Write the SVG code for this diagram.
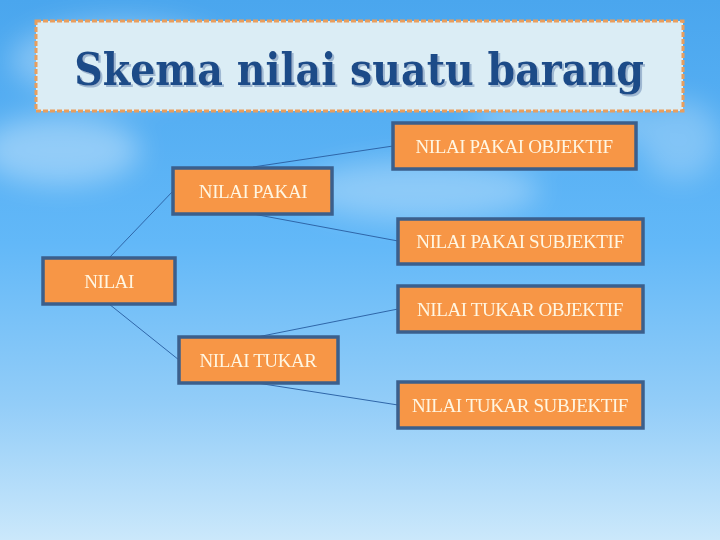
<svg xmlns="http://www.w3.org/2000/svg" width="720" height="540" viewBox="0 0 720 540">
  <defs>
    <linearGradient id="sky" x1="0" y1="0" x2="0" y2="1">
      <stop offset="0" stop-color="#4aa6ee"/>
      <stop offset="0.45" stop-color="#62b8f8"/>
      <stop offset="0.75" stop-color="#93cdf8"/>
      <stop offset="1" stop-color="#cbe8fb"/>
    </linearGradient>
    <filter id="blur" x="-50%" y="-50%" width="200%" height="200%">
      <feGaussianBlur stdDeviation="14"/>
    </filter>
    <filter id="shadow" x="-5%" y="-20%" width="110%" height="140%">
      <feFlood flood-color="#9fb8d2"/>
      <feComposite in2="SourceAlpha" operator="in"/>
      <feOffset dx="2" dy="2" result="sh"/>
      <feMerge>
        <feMergeNode in="sh"/>
        <feMergeNode in="SourceGraphic"/>
      </feMerge>
    </filter>
    <style>
      .box { fill: #f79646; stroke: #3b5f8c; stroke-width: 3.5; }
      .lbl { font-family: "Liberation Serif", "Times New Roman", serif; font-size: 19px; fill: #fff6e2; text-anchor: middle; letter-spacing: -0.4px; }
      .con { stroke: #2f66a8; stroke-width: 1; fill: none; }
      .title { font-family: "DejaVu Serif Condensed", "DejaVu Serif", serif; font-stretch: condensed; font-weight: bold; font-size: 44px; text-anchor: middle; }
    </style>
  </defs>

  <rect width="720" height="540" fill="url(#sky)"/>
  <g filter="url(#blur)" fill="#ffffff">
    <ellipse cx="60" cy="150" rx="80" ry="35" opacity="0.35"/>
    <ellipse cx="120" cy="60" rx="110" ry="40" opacity="0.3"/>
    <ellipse cx="420" cy="190" rx="120" ry="30" opacity="0.3"/>
    <ellipse cx="560" cy="120" rx="90" ry="30" opacity="0.25"/>
    <ellipse cx="680" cy="140" rx="40" ry="40" opacity="0.25"/>
  </g>

  <g id="title">
    <rect x="36" y="21" width="647" height="90" fill="#dbedf5" stroke="#e89e5e" stroke-width="3" stroke-dasharray="5 2"/>
    <text class="title" x="359" y="85" fill="#1f4c88" filter="url(#shadow)">Skema nilai suatu barang</text>
  </g>

  <g id="connectors">
    <line class="con" x1="109" y1="258" x2="173" y2="191"/>
    <line class="con" x1="109" y1="304" x2="179" y2="360"/>
    <line class="con" x1="253" y1="167" x2="393" y2="146"/>
    <line class="con" x1="253" y1="214" x2="398" y2="241"/>
    <line class="con" x1="257" y1="337" x2="398" y2="309"/>
    <line class="con" x1="257" y1="383" x2="398" y2="405"/>
  </g>

  <g id="nilai">
    <rect class="box" x="43" y="258" width="132" height="46"/>
    <text class="lbl" x="109" y="288">NILAI</text>
  </g>
  <g id="nilai-pakai">
    <rect class="box" x="173" y="168" width="159" height="46"/>
    <text class="lbl" x="253" y="198">NILAI PAKAI</text>
  </g>
  <g id="nilai-tukar">
    <rect class="box" x="179" y="337" width="159" height="46"/>
    <text class="lbl" x="258" y="367">NILAI TUKAR</text>
  </g>
  <g id="nilai-pakai-objektif">
    <rect class="box" x="393" y="123" width="243" height="46"/>
    <text class="lbl" x="514" y="153">NILAI PAKAI OBJEKTIF</text>
  </g>
  <g id="nilai-pakai-subjektif">
    <rect class="box" x="398" y="219" width="245" height="45"/>
    <text class="lbl" x="520" y="248">NILAI PAKAI SUBJEKTIF</text>
  </g>
  <g id="nilai-tukar-objektif">
    <rect class="box" x="398" y="286" width="245" height="46"/>
    <text class="lbl" x="520" y="316">NILAI TUKAR OBJEKTIF</text>
  </g>
  <g id="nilai-tukar-subjektif">
    <rect class="box" x="398" y="382" width="245" height="46"/>
    <text class="lbl" x="520" y="412">NILAI TUKAR SUBJEKTIF</text>
  </g>
</svg>
